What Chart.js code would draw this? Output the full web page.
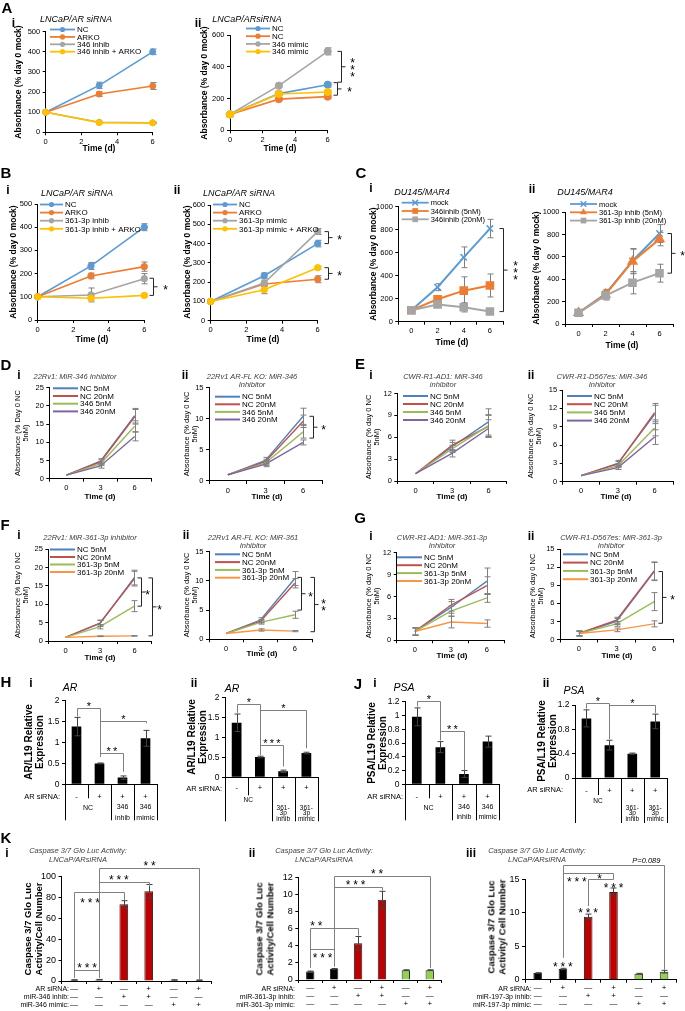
<!DOCTYPE html>
<html>
<head>
<meta charset="utf-8">
<script src="https://cdn.jsdelivr.net/npm/chart.js@4.4.0/dist/chart.umd.min.js"></script>
<style>
body{margin:0;background:#fff;width:685px;height:1011px;position:relative;overflow:hidden}
canvas{position:absolute;left:0;top:0}
.t{position:absolute;white-space:nowrap;text-align:center;color:#000}
</style>
</head>
<body>
<script>
// ---------- data ----------
// A: LNCaP/AR siRNA growth (% day 0 mock)
const dayA = [0, 3, 6];
const aiNames = ['NC', 'ARKO', '346 inhib', '346 inhib + ARKO'];
const aiMean = [[100, 233, 400], [100, 190, 230], [100, 50, 47], [100, 48, 47]];
const aiErr = [[0, 16, 14], [0, 12, 17], [0, 5, 4], [0, 3, 3]];
const aiiNames = ['NC', 'NC', '346 mimic', '346 mimic'];
const aiiMean = [[100, 231, 287], [100, 196, 212], [100, 281, 497], [100, 229, 241]];
const aiiErr = [[0, 8, 14], [0, 8, 10], [0, 8, 22], [0, 8, 10]];

// B
const biNames = ['NC', 'ARKO', '361-3p inhib', '361-3p inhib + ARKO'];
const biMean = [[100, 233, 400], [100, 190, 230], [100, 108, 178], [100, 94, 106]];
const biErr = [[0, 15, 15], [0, 12, 20], [0, 30, 22], [0, 8, 5]];
const biiNames = ['NC', 'ARKO', '361-3p mimic', '361-3p mimic + ARKO'];
const biiMean = [[100, 233, 400], [100, 190, 215], [100, 195, 462], [100, 160, 275]];
const biiErr = [[0, 15, 17], [0, 10, 18], [0, 15, 15], [0, 20, 8]];

// C: DU145/MAR4
const dayC = ['0', '2', '4', '6'];
const ciNames = ['mock', '346inhib (5nM)', '346inhib (20nM)'];
const ciMean = [[100, 300, 560, 810], [100, 195, 270, 315], [100, 150, 125, 88]];
const ciErr = [[0, 30, 90, 80], [0, 30, 120, 100], [0, 25, 40, 15]];
const ciiNames = ['mock', '361-3p inhib (5nM)', '361-3p inhib (20nM)'];
const ciiMean = [[100, 270, 565, 810], [100, 265, 560, 760], [100, 255, 370, 455]];
const ciiErr = [[0, 40, 110, 80], [0, 30, 110, 60], [0, 40, 100, 80]];

// D-G: absorbance (% day 0 NC 5nM)
const dayD = ['0', '3', '6'];
const n346 = ['NC 5nM', 'NC 20nM', '346 5nM', '346 20nM'];
const n361 = ['NC 5nM', 'NC 20nM', '361-3p 5nM', '361-3p 20nM'];
const diMean = [[1, 4.8, 17.3], [1, 4.6, 17.0], [1, 4.1, 14.4], [1, 3.5, 11.6]];
const diErr = [[0, 0.7, 2.0], [0, 0.6, 2.0], [0, 0.5, 1.5], [0, 0.6, 1.2]];
const diiMean = [[1, 3.3, 10.4], [1, 3.1, 9.6], [1, 2.9, 7.9], [1, 2.7, 6.2]];
const diiErr = [[0, 0.5, 1.3], [0, 0.4, 1.0], [0, 0.4, 1.0], [0, 0.4, 0.4]];
const eiMean = [[1, 4.7, 8.1], [1, 4.9, 7.5], [1, 4.4, 7.6], [1, 3.8, 7.2]];
const eiErr = [[0, 0.6, 1.8], [0, 0.7, 1.5], [0, 0.5, 1.5], [0, 0.5, 1.2]];
const eiiMean = [[1, 3.0, 11.0], [1, 2.9, 11.3], [1, 2.6, 8.8], [1, 2.3, 7.3]];
const eiiErr = [[0, 0.5, 1.5], [0, 0.4, 1.5], [0, 0.3, 1.3], [0, 0.3, 1.2]];
const fiMean = [[1, 4.8, 17.3], [1, 4.9, 17.0], [1, 3.9, 9.5], [1, 1.3, 1.4]];
const fiErr = [[0, 0.8, 2.0], [0, 0.8, 2.0], [0, 0.6, 1.5], [0, 0.1, 0.1]];
const fiiMean = [[1, 3.3, 10.4], [1, 3.1, 9.6], [1, 2.9, 4.2], [1, 1.6, 1.4]];
const fiiErr = [[0, 0.4, 1.2], [0, 0.3, 0.8], [0, 0.3, 0.6], [0, 0.2, 0.1]];
const giMean = [[1.2, 4.5, 8.1], [1.2, 4.8, 7.5], [1.2, 4.0, 5.8], [1.2, 2.5, 2.3]];
const giErr = [[0.5, 0.8, 1.8], [0.5, 0.8, 1.2], [0.5, 0.7, 0.6], [0.5, 0.8, 0.5]];
const giiMean = [[1.0, 3.0, 11.3], [1.0, 3.2, 11.4], [1.0, 2.6, 6.3], [1.0, 1.6, 2.6]];
const giiErr = [[0.4, 0.5, 1.5], [0.4, 0.5, 1.5], [0.4, 0.4, 1.5], [0.4, 0.3, 0.5]];

// H/J: qPCR relative expression
const hjSign = ['-', '+', '+', '+'];
const hiVals = [1.38, 0.50, 0.16, 1.10], hiErr = [0.22, 0.01, 0.04, 0.19];
const hiiVals = [1.37, 0.51, 0.15, 0.61], hiiErr = [0.22, 0.02, 0.03, 0.02];
const jiVals = [0.98, 0.54, 0.15, 0.62], jiErr = [0.13, 0.08, 0.05, 0.08];
const jiiVals = [0.98, 0.54, 0.40, 0.93], jiiErr = [0.14, 0.08, 0.01, 0.12];
const grp346 = [['NC'], ['346', 'inhib'], ['346', 'mimic']];
const grp361 = [['NC'], ['361-', '3p', 'inhib'], ['361-', '3p', 'mimic']];
const grpSpan = [[0, 1], [2, 2], [3, 3]];

// K: caspase 3/7
const kAR = ['\u2014', '+', '\u2014', '+', '\u2014', '+'];
const kInh = ['\u2014', '\u2014', '+', '+', '\u2014', '\u2014'];
const kMim = ['\u2014', '\u2014', '\u2014', '\u2014', '+', '+'];
const kiVals = [1.0, 1.3, 73.5, 86.0, 1.0, 0.8], kiErr = [0.2, 0.2, 3.5, 6.5, 0.2, 0.2];
const kiiVals = [1.0, 1.3, 4.3, 9.4, 1.15, 1.15], kiiErr = [0.05, 0.05, 0.8, 1.0, 0.05, 0.05];
const kiiiVals = [1.0, 1.6, 9.4, 13.1, 0.9, 1.2], kiiiErr = [0.05, 0.1, 0.4, 0.6, 0.05, 0.2];

// ---------- styles ----------
const pal13 = ['#5B9BD5', '#ED7D31', '#A5A5A5', '#FFC000'];
const pal10 = ['#4F81BD', '#C0504D', '#9BBB59', '#8064A2'];
const pal10o = ['#4F81BD', '#C0504D', '#9BBB59', '#F79646'];
const kCols = ['#000000', '#000000', '#C00000', '#C00000', '#92D050', '#92D050'];
const FN = '"Liberation Sans", Arial, sans-serif';
Chart.defaults.font.family = FN;
Chart.defaults.color = '#000';
const W = 685, H = 1011;

// ---------- helpers ----------
function T(html, x, y, font, o) {
  o = o || {};
  const d = document.createElement('div');
  d.className = 't';
  d.innerHTML = html;
  d.style.font = font + ' ' + FN;
  d.style.lineHeight = o.lh ? o.lh + 'px' : '1.12';
  if (o.color) d.style.color = o.color;
  d.style.left = x + 'px';
  d.style.top = y + 'px';
  const ax = o.al === 'r' ? '-100%' : o.al === 'l' ? '0' : '-50%';
  d.style.transform = 'translate(' + ax + ',-50%)' + (o.rot ? ' rotate(-90deg)' : '');
  document.body.appendChild(d);
}

function axisY(a) {
  return {
    min: a[0], max: a[1],
    ticks: {stepSize: a[2], font: {size: a[3] || 7.5}, padding: 2.5,
      callback: v => String(Math.round(v * 1000) / 1000)},
    grid: {drawOnChartArea: false, drawTicks: true, tickLength: 3, color: '#000'},
    border: {color: '#000', width: 1},
    afterFit: s => { s.width = 30; }
  };
}
function axisXLin(fs) {
  return {
    type: 'linear', min: 0, max: 6,
    ticks: {stepSize: 2, font: {size: fs}, padding: 2},
    grid: {drawOnChartArea: false, tickLength: 3, color: '#000'},
    border: {color: '#000', width: 1},
    afterFit: s => { s.height = 30; }
  };
}
function axisXCat(fs, o) {
  o = o || {};
  return {
    type: 'category', offset: true,
    ticks: {font: {size: fs, lineHeight: o.lh || 1.2}, padding: o.pad != null ? o.pad : 2, autoSkip: false, maxRotation: 0},
    grid: {offset: true, display: !o.noTicks, drawOnChartArea: false, drawTicks: !o.noTicks, tickLength: 3, color: '#000'},
    border: {color: '#000', width: 1},
    afterFit: s => { s.height = 30; }
  };
}

function lineDs(names, means, errs, cols, o, xv) {
  return means.map((m, i) => ({
    label: names[i],
    data: xv ? xv.map((d, k) => ({x: d, y: m[k]})) : m,
    errs: errs[i],
    borderColor: cols[i], backgroundColor: cols[i],
    pointBackgroundColor: cols[i], pointBorderColor: cols[i],
    borderWidth: o.w,
    pointRadius: o.r ? (Array.isArray(o.r) ? o.r[i] : o.r) : 0,
    pointStyle: o.ps ? o.ps[i] : 'circle',
    pointBorderWidth: o.pbw || 1,
    tension: 0, fill: false, clip: false, order: -i
  }));
}
function barDs(vals, errs, cols, pct, bw) {
  return [{data: vals, errs: errs, backgroundColor: cols, borderColor: '#262626',
    borderWidth: bw || 0, barPercentage: pct, categoryPercentage: 1}];
}

function mark(ctx, st, x, y, r, col) {
  ctx.fillStyle = col; ctx.strokeStyle = col; ctx.lineWidth = 1.5;
  ctx.beginPath();
  if (st === 'rect') { const s = r * 0.71; ctx.rect(x - s, y - s, 2 * s, 2 * s); ctx.fill(); }
  else if (st === 'triangle') { ctx.moveTo(x, y - r); ctx.lineTo(x + r * 0.87, y + r * 0.5); ctx.lineTo(x - r * 0.87, y + r * 0.5); ctx.closePath(); ctx.fill(); }
  else if (st === 'crossRot') { const s = r * 0.71; ctx.moveTo(x - s, y - s); ctx.lineTo(x + s, y + s); ctx.moveTo(x + s, y - s); ctx.lineTo(x - s, y + s); ctx.stroke(); }
  else { ctx.arc(x, y, r, 0, Math.PI * 2); ctx.fill(); }
}

function stars(ctx, t, x, y, o) {
  const s = o.size || 12;
  ctx.fillStyle = '#000';
  ctx.textAlign = 'center';
  if (!/^\*+$/.test(t)) {
    ctx.font = 'italic 7.5px ' + FN; ctx.textBaseline = 'middle';
    ctx.fillText(t, x, y); return;
  }
  ctx.font = s + 'px ' + FN;
  ctx.textBaseline = 'alphabetic';
  const n = t.length, gap = o.gap || s * 0.55;
  for (let k = 0; k < n; k++) {
    const off = (k - (n - 1) / 2) * gap;
    ctx.fillText('*', o.vert ? x : x + off, (o.vert ? y + off : y) + s * 0.575);
  }
}

function drawErr(ch, c) {
  const ctx = ch.ctx, ys = ch.scales.y;
  ch.data.datasets.forEach((ds, i) => {
    if (!ds.errs) return;
    const meta = ch.getDatasetMeta(i);
    ctx.save();
    ctx.strokeStyle = c.errColor || '#7f7f7f';
    ctx.lineWidth = 1;
    const cw = c.cap || 3;
    meta.data.forEach((el, j) => {
      const e = ds.errs[j];
      if (!e) return;
      const raw = ds.data[j], v = typeof raw === 'object' ? raw.y : raw;
      const x = Math.round(el.x) + 0.5;
      const y1 = ys.getPixelForValue(v + e), y2 = ys.getPixelForValue(v - e);
      ctx.beginPath();
      ctx.moveTo(x, y1); ctx.lineTo(x, y2);
      ctx.moveTo(x - cw, y1); ctx.lineTo(x + cw, y1);
      ctx.moveTo(x - cw, y2); ctx.lineTo(x + cw, y2);
      ctx.stroke();
    });
    ctx.restore();
  });
}

function makeAnno(c) {
  return {
    id: 'anno',
    beforeDatasetsDraw(ch) { if (c.errFirst) drawErr(ch, c); },
    afterDatasetsDraw(ch) { if (!c.errFirst) drawErr(ch, c); },
    afterDraw(ch) {
      const ctx = ch.ctx, xs = ch.scales.x, ys = ch.scales.y, ca = ch.chartArea;
      ctx.save();
      if (c.lg) {
        const g = c.lg;
        ch.data.datasets.forEach((ds, i) => {
          const y = g.y + i * g.dy;
          ctx.strokeStyle = ds.borderColor; ctx.lineWidth = g.lw || 1.8;
          ctx.beginPath(); ctx.moveTo(g.x, y); ctx.lineTo(g.x + g.len, y); ctx.stroke();
          if (ds.pointRadius) mark(ctx, ds.pointStyle, g.x + g.len / 2, y, g.mr || 2.8, ds.borderColor);
          ctx.fillStyle = '#000'; ctx.font = (g.font || '8px') + ' ' + FN;
          ctx.textAlign = 'left'; ctx.textBaseline = 'middle';
          ctx.fillText(ds.label, g.x + g.len + 2, y + 0.5);
        });
      }
      (c.vb || []).forEach(b => {
        const x = Math.round(xs.getPixelForValue(b.at) + b.dx) + 0.5;
        const y1 = ys.getPixelForValue(b.y1), y2 = ys.getPixelForValue(b.y2), ym = (y1 + y2) / 2;
        ctx.strokeStyle = '#262626'; ctx.lineWidth = 1;
        ctx.beginPath();
        ctx.moveTo(x - 4, y1); ctx.lineTo(x, y1); ctx.lineTo(x, y2); ctx.lineTo(x - 4, y2);
        ctx.moveTo(x, ym); ctx.lineTo(x + 4, ym);
        ctx.stroke();
        stars(ctx, b.t, x + b.lx, ym, {vert: true, size: c.star || 12, gap: 7});
      });
      (c.hb || []).forEach(b => {
        const xa = Math.round(xs.getPixelForValue(b.a)) + 0.5, xb = Math.round(xs.getPixelForValue(b.b)) + 0.5;
        const y = Math.round(ys.getPixelForValue(b.y)) + 0.5;
        ctx.strokeStyle = c.brColor || '#7f7f7f'; ctx.lineWidth = 1;
        ctx.beginPath();
        ctx.moveTo(xa, ys.getPixelForValue(b.ya)); ctx.lineTo(xa, y); ctx.lineTo(xb, y); ctx.lineTo(xb, ys.getPixelForValue(b.yb));
        ctx.stroke();
        const lx = b.lx != null ? xs.getPixelForValue(b.lx) : (xa + xb) / 2;
        const ly = b.ly != null ? ys.getPixelForValue(b.ly) : y - (c.lOff || 5);
        stars(ctx, b.t, lx, ly, {size: c.star || 11, gap: c.gap || 6.5});
      });
      (c.st || []).forEach(s => {
        stars(ctx, s.t, xs.getPixelForValue(s.x), ys.getPixelForValue(s.y), {size: c.star || 11, gap: c.gap || 6.5});
      });
      if (c.tbl) {
        const tb = c.tbl, p0 = xs.getPixelForValue(0), w = xs.getPixelForValue(1) - p0;
        ctx.strokeStyle = '#000'; ctx.lineWidth = 1;
        ctx.beginPath();
        tb.lens.forEach((len, k) => {
          const x = Math.round(p0 - w / 2 + k * w) + 0.5;
          ctx.moveTo(x, ca.bottom); ctx.lineTo(x, ca.bottom + len);
        });
        ctx.stroke();
        ctx.fillStyle = '#000'; ctx.textAlign = 'center'; ctx.textBaseline = 'middle';
        ctx.font = tb.font + ' ' + FN;
        tb.groups.forEach((lines, gi) => {
          const sp = grpSpan[gi], x = xs.getPixelForValue((sp[0] + sp[1]) / 2);
          const dy = lines.length === 1 ? tb.dy1 : tb.dyN;
          lines.forEach((s, k) => ctx.fillText(s, x, ca.bottom + dy + k * tb.lh));
        });
      }
      ctx.restore();
    }
  };
}

function mk(c) {
  const cv = document.createElement('canvas');
  cv.width = W; cv.height = H;
  document.body.appendChild(cv);
  const l = c.box[0], t = c.box[1], r = c.box[2], b = c.box[3];
  new Chart(cv, {
    type: c.type || 'line',
    data: {labels: c.labels, datasets: c.ds},
    options: {
      responsive: false, animation: false, events: [],
      layout: {padding: {left: l - 30, top: t, right: W - r, bottom: H - b - 30}},
      plugins: {legend: {display: false}, tooltip: {enabled: false}},
      scales: {x: c.x, y: axisY(c.y)}
    },
    plugins: [makeAnno(c)]
  });
}

// ---------- A ----------
mk({box: [45.7, 31.7, 152.7, 132.3], x: axisXLin(7.5), y: [0, 500, 100, 7.5], errFirst: true,
  ds: lineDs(aiNames, aiMean, aiErr, pal13, {w: 1.6, r: 3}, dayA),
  lg: {x: 50, y: 29.5, dy: 7.4, len: 25, font: '8px', mr: 2.6}});
mk({box: [230, 35, 327.7, 130.3], x: axisXLin(7.5), y: [0, 600, 200, 7.5], errFirst: true,
  ds: lineDs(aiiNames, aiiMean, aiiErr, pal13, {w: 1.6, r: 3.6}, dayA),
  lg: {x: 246, y: 28.5, dy: 7.7, len: 24, font: '8px', mr: 2.6},
  vb: [{at: 6, y1: 497, y2: 303, dx: 13, t: '***', lx: 11}, {at: 6, y1: 300, y2: 221, dx: 9, t: '*', lx: 12}]});

// ---------- B ----------
mk({box: [37.7, 204, 144.3, 320], x: axisXLin(7.5), y: [0, 500, 100, 7.5], errFirst: true,
  ds: lineDs(biNames, biMean, biErr, pal13, {w: 1.6, r: 3.2}, dayA),
  lg: {x: 40, y: 204.5, dy: 8.1, len: 23, font: '8px', mr: 2.6},
  vb: [{at: 6, y1: 180, y2: 106, dx: 9, t: '*', lx: 12}]});
mk({box: [210.7, 205, 317.7, 320.7], x: axisXLin(7.5), y: [0, 600, 100, 7.5], errFirst: true,
  ds: lineDs(biiNames, biiMean, biiErr, pal13, {w: 1.6, r: 3.2}, dayA),
  lg: {x: 213, y: 204.5, dy: 8.1, len: 24, font: '8px', mr: 2.6},
  vb: [{at: 6, y1: 462, y2: 400, dx: 10, t: '*', lx: 11}, {at: 6, y1: 275, y2: 215, dx: 10, t: '*', lx: 11}]});

// ---------- C ----------
mk({box: [398.3, 206.7, 503, 321.7], labels: dayC, x: axisXCat(7.5), y: [0, 1000, 200, 7.5], errFirst: true,
  ds: lineDs(ciNames, ciMean, ciErr, pal13, {w: 2, r: [4.5, 5, 5], ps: ['crossRot', 'rect', 'rect'], pbw: 1.5}),
  lg: {x: 401.7, y: 202.7, dy: 8.3, len: 27, font: '7.5px', mr: 4},
  vb: [{at: 3, y1: 810, y2: 88, dx: 13, t: '***', lx: 12}]});
mk({box: [565, 212.3, 673, 324], labels: dayC, x: axisXCat(7.5), y: [0, 1000, 200, 7.5], errFirst: true,
  ds: lineDs(ciiNames, ciiMean, ciiErr, pal13, {w: 2, r: [4.5, 5, 5], ps: ['crossRot', 'triangle', 'rect'], pbw: 1.5}),
  lg: {x: 570, y: 204, dy: 8.3, len: 27, font: '7.5px', mr: 4},
  vb: [{at: 3, y1: 810, y2: 455, dx: 11, t: '*', lx: 11}]});

// ---------- D-G ----------
const lgD = (x, y, dy) => ({x: x, y: y, dy: dy, len: 25, font: '8px', lw: 2});
mk({box: [49.3, 387.7, 151.7, 478.7], labels: dayD, x: axisXCat(7.5), y: [0, 25, 5, 7.5],
  ds: lineDs(n346, diMean, diErr, pal10, {w: 1.4}), lg: lgD(53, 388.3, 7.7)});
mk({box: [209, 387.7, 322, 481], labels: dayD, x: axisXCat(7.5), y: [0, 15, 5, 7.5],
  ds: lineDs(n346, diiMean, diiErr, pal10, {w: 1.4}), lg: lgD(215, 396.7, 7.6),
  vb: [{at: 2, y1: 10.4, y2: 6.9, dx: 10, t: '*', lx: 10}]});
mk({box: [397.3, 393.5, 506.7, 481], labels: dayD, x: axisXCat(7.5), y: [0, 12, 3, 7.5],
  ds: lineDs(n346, eiMean, eiErr, pal10, {w: 1.4}), lg: lgD(403, 396, 8)});
mk({box: [562.7, 390, 673, 481.7], labels: dayD, x: axisXCat(7.5), y: [0, 15, 3, 7.5],
  ds: lineDs(n346, eiiMean, eiiErr, pal10, {w: 1.4}), lg: lgD(567, 396, 8.2)});
mk({box: [48.3, 549.3, 151.7, 641], labels: dayD, x: axisXCat(7.5), y: [0, 25, 5, 7.5],
  ds: lineDs(n361, fiMean, fiErr, pal10o, {w: 1.4}), lg: lgD(50, 549.5, 7.5),
  vb: [{at: 2, y1: 17.2, y2: 9.5, dx: 7, t: '*', lx: 6}, {at: 2, y1: 17.2, y2: 1.4, dx: 18, t: '*', lx: 7}]});
mk({box: [209, 551.7, 312, 639.3], labels: dayD, x: axisXCat(7.5), y: [0, 15, 5, 7.5],
  ds: lineDs(n361, fiiMean, fiiErr, pal10o, {w: 1.4}), lg: lgD(215, 554.3, 7.8),
  vb: [{at: 2, y1: 10.6, y2: 5.0, dx: 6, t: '*', lx: 9}, {at: 2, y1: 10.6, y2: 1.3, dx: 19, t: '**', lx: 9}]});
mk({box: [396.7, 552.7, 505, 640.3], labels: dayD, x: axisXCat(7.5), y: [0, 12, 3, 7.5],
  ds: lineDs(n361, giMean, giErr, pal10o, {w: 1.4}), lg: lgD(397, 557.3, 7.9)});
mk({box: [560, 549.3, 673, 639.5], labels: dayD, x: axisXCat(7.5), y: [0, 15, 3, 7.5],
  ds: lineDs(n361, giiMean, giiErr, pal10o, {w: 1.4}), lg: lgD(563, 554.3, 8.3),
  vb: [{at: 2, y1: 11.3, y2: 2.7, dx: 8, t: '*', lx: 10}]});

// ---------- H / J ----------
mk({type: 'bar', box: [65, 700.7, 157, 784.3], labels: hjSign, x: axisXCat(7.5, {noTicks: true, pad: 8.6}),
  y: [0, 2, 0.5, 8.5], ds: barDs(hiVals, hiErr, '#000', 0.42), errColor: '#404040',
  hb: [{a: 0, b: 1, y: 1.83, ya: 1.62, yb: 0.66, t: '*'}, {a: 1, b: 3, y: 1.51, ya: 0.66, yb: 1.46, t: '*'},
       {a: 1, b: 2, y: 0.74, ya: 0.66, yb: 0.30, t: '**'}],
  tbl: {lens: [36, 14, 36, 36, 36], groups: grp346, font: '7px', dy1: 24, dyN: 22.4, lh: 11.3}});
mk({type: 'bar', box: [225, 697.7, 318, 777.3], labels: hjSign, x: axisXCat(7.5, {noTicks: true, pad: 6.5}),
  y: [0, 2, 0.5, 8.5], ds: barDs(hiiVals, hiiErr, '#000', 0.42), errColor: '#404040',
  hb: [{a: 0, b: 1, y: 1.83, ya: 1.62, yb: 0.56, t: '*'}, {a: 1, b: 3, y: 1.68, ya: 0.56, yb: 0.73, t: '*'},
       {a: 1, b: 2, y: 0.80, ya: 0.56, yb: 0.27, t: '***'}],
  tbl: {lens: [44, 18, 44, 44, 44], groups: grp361, font: '6.5px', dy1: 23.4, dyN: 30.7, lh: 5.6}});
mk({type: 'bar', box: [405, 701.7, 499.3, 784.3], labels: hjSign, x: axisXCat(7.5, {noTicks: true, pad: 8.6}),
  y: [0, 1.2, 0.2, 8.5], ds: barDs(jiVals, jiErr, '#000', 0.41), errColor: '#404040',
  hb: [{a: 0, b: 1, y: 1.21, ya: 1.13, yb: 0.64, t: '*'}, {a: 1, b: 2, y: 0.78, ya: 0.64, yb: 0.20, t: '**'}],
  tbl: {lens: [36, 14, 36, 36, 36], groups: grp346, font: '7px', dy1: 24, dyN: 23, lh: 10}});
mk({type: 'bar', box: [575, 705, 666.7, 778], labels: hjSign, x: axisXCat(7.5, {noTicks: true, pad: 8.2}),
  y: [0, 1.2, 0.2, 8.5], ds: barDs(jiiVals, jiiErr, '#000', 0.42), errColor: '#404040',
  hb: [{a: 0, b: 1, y: 1.24, ya: 1.14, yb: 0.64, t: '*'}, {a: 1, b: 3, y: 1.20, ya: 0.64, yb: 1.07, t: '*'}],
  tbl: {lens: [45, 17, 45, 45, 45], groups: grp361, font: '6.5px', dy1: 23.7, dyN: 30.3, lh: 5.4}});

// ---------- K ----------
const kLabels = kAR.map((a, i) => [a, kInh[i], kMim[i]]);
const kx = () => axisXCat(8, {lh: 1, pad: 1});
mk({type: 'bar', box: [61.5, 876.7, 211, 981], labels: kLabels, x: kx(), y: [0, 100, 20, 9],
  ds: barDs(kiVals, kiErr, kCols, 0.35, 1), errColor: '#404040', star: 12, gap: 7.5,
  hb: [{a: 0, b: 1, y: 10.3, ya: 2.9, yb: 2.9, t: '***'},
       {a: 0, b: 2, y: 85.6, ya: 2.9, yb: 77.7, t: '***', lx: 0.65, ly: 77.5},
       {a: 1, b: 3, y: 94.6, ya: 2.9, yb: 90.4, t: '***', lx: 1.8},
       {a: 1, b: 5, y: 108, ya: 2.9, yb: 1.9, t: '**'}]});
mk({type: 'bar', box: [298.3, 877.7, 441.7, 980], labels: kLabels, x: kx(), y: [0, 12, 2, 9],
  ds: barDs(kiiVals, kiiErr, kCols, 0.35, 1), errColor: '#404040', star: 12, gap: 7.5,
  hb: [{a: 0, b: 1, y: 3.65, ya: 1.45, yb: 1.6, t: '***', ly: 2.9},
       {a: 0, b: 2, y: 6.08, ya: 1.45, yb: 5.2, t: '**', lx: 0.25},
       {a: 1, b: 3, y: 10.9, ya: 1.6, yb: 10.5, t: '***', lx: 1.9},
       {a: 1, b: 5, y: 12.2, ya: 1.6, yb: 1.4, t: '**', lx: 2.8}]});
mk({type: 'bar', box: [525, 879.3, 676.7, 979.7], labels: kLabels, x: kx(), y: [0, 15, 5, 9],
  ds: barDs(kiiiVals, kiiiErr, kCols, 0.34, 1), errColor: '#404040', star: 12, gap: 7.5,
  st: [{x: 1, y: 2.4, t: '***'}, {x: 2, y: 10.4, t: '***'}, {x: 3, y: 14.1, t: '***'}],
  hb: [{a: 1, b: 5, y: 17.2, ya: 3.3, yb: 1.5, t: 'P=0.089', lx: 4.3},
       {a: 1, b: 3, y: 15.9, ya: 3.3, yb: 15.0, t: '***', lx: 1.55, ly: 15.0},
       {a: 2, b: 3, y: 15.0, ya: 11.0, yb: 15.0, t: '*', lx: 2.45, ly: 15.55}]});

// ---------- text ----------
const PL = 'bold 15px', RN = 'bold 12px', TI = 'italic 9px', AX = 'bold 8.5px';
const TD = 'italic 7.5px', AXD = '7.5px', TM = 'bold 8px';
const gray = {color: '#404040'};
const absA = 'Absorbance (% day 0 mock)';
T('A', 7, 8, PL); T('i', 13.5, 24, RN); T('LNCaP/AR siRNA', 76, 18.5, TI);
T('ii', 198, 24, RN); T('LNCaP/ARsiRNA', 247, 18.5, TI);
T(absA, 19, 82, AX, {rot: 1}); T(absA, 205, 83, AX, {rot: 1});
T('Time (d)', 99, 149, AX); T('Time (d)', 280, 149, AX);

T('B', 6, 173, PL); T('i', 8, 191, RN); T('LNCaP/AR siRNA', 77, 192.5, TI);
T('ii', 177, 191, RN); T('LNCaP/AR siRNA', 239, 192.5, TI);
T(absA, 14, 262, AX, {rot: 1}); T(absA, 188, 262, AX, {rot: 1});
T('Time (d)', 92, 340, AX); T('Time (d)', 263, 340, AX);

T('C', 361, 173, PL); T('i', 371, 189, RN); T('DU145/MAR4', 422, 192, TI);
T('ii', 532, 190, RN); T('DU145/MAR4', 585, 192, TI);
T(absA, 374, 264, AX, {rot: 1}); T(absA, 537, 268, AX, {rot: 1});
T('Time (d)', 452, 342.7, AX); T('Time (d)', 622, 346, AX);

const absD = 'Absorbance (% Day 0 NC<br>5nM)', absd = 'Absorbance (% day 0 NC<br>5nM)';
T('D', 6, 365, PL); T('i', 19, 376, RN); T('22Rv1: MiR-346 Inhibitor', 75, 377.3, TD, gray);
T('ii', 185, 376, RN); T('22Rv1 AR-FL KO: MiR-346<br>Inhibitor', 252, 381.5, TD, {color: '#404040', lh: 8.7});
T(absD, 21.5, 433, AXD, {rot: 1}); T(absd, 191, 434, AXD, {rot: 1});
T('Time (d)', 100, 496.7, TM); T('Time (d)', 267, 496.7, TM);

T('E', 360, 364, PL); T('i', 371, 376, RN); T('CWR-R1-AD1: MiR-346<br>inhibitor', 443, 381.5, TD, {color: '#404040', lh: 8.7});
T('ii', 531, 376, RN); T('CWR-R1-D567es: MiR-346<br>Inhibitor', 602, 381.5, TD, {color: '#404040', lh: 8.7});
T(absd, 373, 437, AXD, {rot: 1}); T(absd, 535, 436, AXD, {rot: 1});
T('Time (d)', 452, 496.7, TM); T('Time (d)', 616, 496.7, TM);

T('F', 5, 525, PL); T('i', 19, 536, RN); T('22Rv1: MiR-361-3p inhibitor', 90, 538.3, TD, gray);
T('ii', 186, 536, RN); T('22Rv1 AR-FL KO: MiR-361<br>Inhibitor', 253, 542.5, TD, {color: '#404040', lh: 8.7});
T(absD, 21.5, 595, AXD, {rot: 1}); T(absd, 191, 595, AXD, {rot: 1});
T('Time (d)', 100, 658.3, TM); T('Time (d)', 262, 654.3, TM);

T('G', 360, 518, PL); T('i', 371, 537, RN); T('CWR-R1-AD1: MiR-361-3p<br>Inhibitor', 442, 542.5, TD, {color: '#404040', lh: 8.7});
T('ii', 531, 537, RN); T('CWR-R1-D567es: MiR-361-3p<br>Inhibitor', 611, 542.5, TD, {color: '#404040', lh: 8.7});
T(absd, 373, 596, AXD, {rot: 1}); T(absd, 537, 596, AXD, {rot: 1});
T('Time (d)', 452, 655.7, TM); T('Time (d)', 617, 655.7, TM);

const RT = 'italic 10.5px', YB = 'bold 10px', TB = '7.5px';
T('H', 6, 682, PL); T('i', 31, 684, RN); T('AR', 70, 688, RT);
T('ii', 194, 684, RN); T('AR', 232, 689, RT);
T('AR/L19 Relative<br>Expression', 34, 742, YB, {rot: 1}); T('AR/L19 Relative<br>Expression', 197, 737, YB, {rot: 1});
T('AR siRNA:', 60, 796.7, TB, {al: 'r'}); T('AR siRNA:', 222, 789, TB, {al: 'r'});

T('J', 358, 684, PL); T('i', 375, 684, RN); T('PSA', 404, 688, RT);
T('ii', 546, 684, RN); T('PSA', 574, 691, RT);
T('PSA/L19 Relative<br>Expression', 377, 743, YB, {rot: 1}); T('PSA/L19 Relative<br>Expression', 547, 741, YB, {rot: 1});
T('AR siRNA:', 403, 796.7, TB, {al: 'r'}); T('AR siRNA:', 563, 790, TB, {al: 'r'});

const kt = 'Caspase 3/7 Glo Luc Activity:<br>LNCaP/ARsiRNA';
T('K', 6, 838, PL); T('i', 7, 854, RN); T(kt, 78, 856, TD, {color: '#404040', lh: 8.7});
T('ii', 252, 854, RN); T(kt, 324, 856, TD, {color: '#404040', lh: 8.7});
T('iii', 471, 854, RN); T(kt, 537, 856, TD, {color: '#404040', lh: 8.7});
T('Caspase 3/7 Glo Luc<br>Activity/Cell Number', 33.5, 929, 'bold 9.5px', {rot: 1});
T('Caspase 3/7 Glo Luc<br>Activity/Cell Number', 265, 929, 'bold 9.5px', {rot: 1});
T('Caspase 3/7 Glo Luc<br>Activity/ Cell Number', 497, 927, 'bold 9.5px', {rot: 1});
const KR = '7px';
[['miR-346', 69], ['miR-361-3p', 295], ['miR-197-3p', 531.7]].forEach(p => {
  T('AR siRNA:', p[1], 989, KR, {al: 'r'});
  T(p[0] + ' inhib:', p[1], 997, KR, {al: 'r'});
  T(p[0] + ' mimic:', p[1], 1005, KR, {al: 'r'});
});
</script>
</body>
</html>
